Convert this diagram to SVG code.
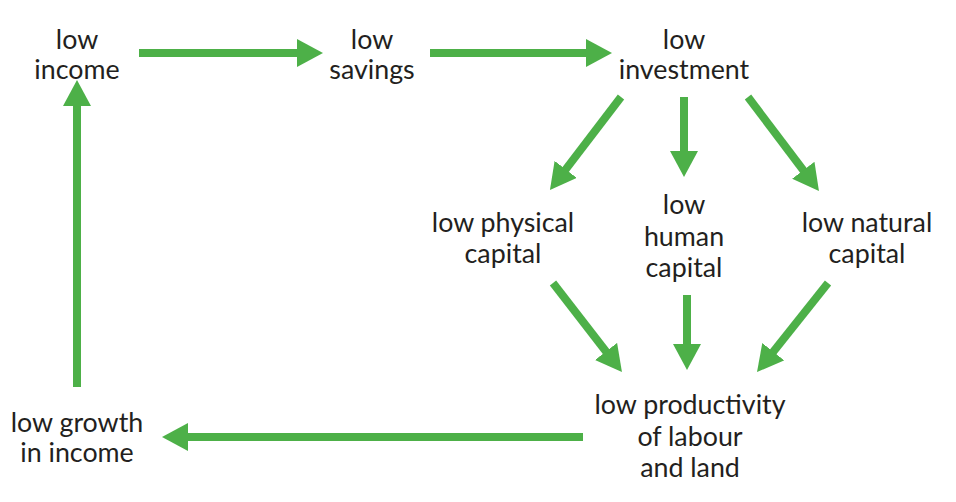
<svg xmlns="http://www.w3.org/2000/svg" width="956" height="502" viewBox="0 0 956 502">
<style>
text{font-family:Lato,"Open Sans","Liberation Sans",sans-serif;font-size:26.8px;fill:#231f20;text-anchor:middle}
.c{stroke:#4db048;stroke-width:8;fill:none;marker-end:url(#ah)}
</style>
<defs>
<marker id="ah" markerUnits="userSpaceOnUse" markerWidth="26" markerHeight="28" refX="6" refY="14" orient="auto" viewBox="0 0 26 28">
<path d="M0,0 L26,14 L0,28 z" fill="#4db048"/>
</marker>
</defs>
<rect width="956" height="502" fill="#fff"/>
<g id="connectors">
<line class="c" x1="139" y1="53" x2="303" y2="53"/>
<line class="c" x1="430" y1="53" x2="592" y2="53"/>
<line class="c" x1="621" y1="97" x2="562.1" y2="174.1"/>
<line class="c" x1="684" y1="97" x2="684" y2="157"/>
<line class="c" x1="748" y1="97" x2="806.9" y2="175"/>
<line class="c" x1="553" y1="283" x2="609.7" y2="356.2"/>
<line class="c" x1="687" y1="295" x2="687" y2="350"/>
<line class="c" x1="828" y1="283" x2="769.5" y2="356.4"/>
<line class="c" x1="583" y1="437" x2="182" y2="437"/>
<line class="c" x1="77" y1="387" x2="77" y2="100"/>
</g>
<g id="low-income"><text x="77" y="49">low</text><text x="77" y="79">income</text></g>
<g id="low-savings"><text x="372" y="49">low</text><text x="372" y="79">savings</text></g>
<g id="low-investment"><text x="684" y="49">low</text><text x="684" y="79">investment</text></g>
<g id="low-physical-capital"><text x="503" y="232">low physical</text><text x="503" y="263">capital</text></g>
<g id="low-human-capital"><text x="684" y="214">low</text><text x="684" y="246">human</text><text x="684" y="277">capital</text></g>
<g id="low-natural-capital"><text x="867" y="232">low natural</text><text x="867" y="263">capital</text></g>
<g id="low-productivity"><text x="690" y="414">low productivity</text><text x="690" y="446">of labour</text><text x="690" y="477">and land</text></g>
<g id="low-growth"><text x="77" y="432">low growth</text><text x="77" y="462">in income</text></g>
</svg>
